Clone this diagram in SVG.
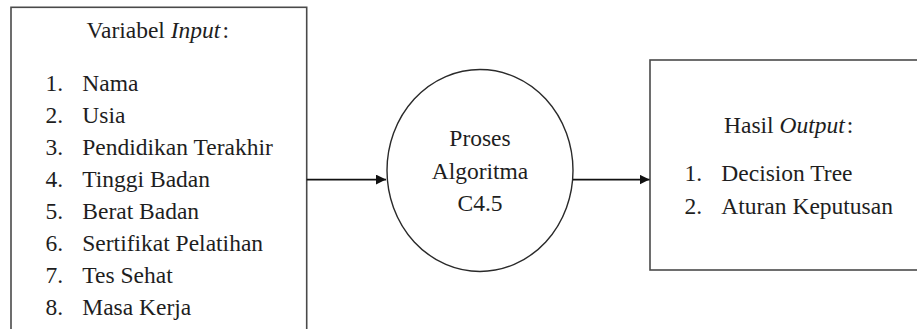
<svg xmlns="http://www.w3.org/2000/svg" width="917" height="329" viewBox="0 0 917 329">
  <style>
    text { font-family: "Liberation Serif", "Times New Roman", serif; font-size: 23.5px; fill: #1e1e1e; }
    .it { font-style: italic; }
    .box { fill: #ffffff; stroke: #4a4a4a; stroke-width: 1.6; }
    .proc { fill: #ffffff; stroke: #2a2a2a; stroke-width: 1.4; }
    .flow { stroke: #111111; stroke-width: 1.6; fill: none; marker-end: url(#arrow); }
    .mid { text-anchor: middle; }
  </style>
  <defs>
    <marker id="arrow" viewBox="0 0 10 10" refX="10" refY="5" markerWidth="10" markerHeight="10" markerUnits="userSpaceOnUse" orient="auto">
      <path d="M0,0 L10,5 L0,10 Z" fill="#111111"/>
    </marker>
  </defs>
  <rect width="917" height="329" fill="#ffffff"/>

  <!-- input variables box (continues below the bottom edge) -->
  <g id="input">
    <rect class="box" x="11" y="7.3" width="295.7" height="340"/>
    <text x="86.6" y="37.8">Variabel <tspan class="it">Input</tspan><tspan dx="2">:</tspan></text>
    <text x="45.5" y="90.6">1.</text><text x="82.3" y="90.6">Nama</text>
    <text x="45.5" y="122.7">2.</text><text x="82.3" y="122.7">Usia</text>
    <text x="45.5" y="154.8">3.</text><text x="82.3" y="154.8">Pendidikan Terakhir</text>
    <text x="45.5" y="186.9">4.</text><text x="82.3" y="186.9">Tinggi Badan</text>
    <text x="45.5" y="219">5.</text><text x="82.3" y="219">Berat Badan</text>
    <text x="45.5" y="251.1">6.</text><text x="82.3" y="251.1">Sertifikat Pelatihan</text>
    <text x="45.5" y="283.2">7.</text><text x="82.3" y="283.2">Tes Sehat</text>
    <text x="45.5" y="315.3">8.</text><text x="82.3" y="315.3">Masa Kerja</text>
  </g>

  <!-- C4.5 process -->
  <g id="process">
    <ellipse class="proc" cx="480" cy="170.5" rx="93" ry="101"/>
    <text class="mid" x="480" y="145.5">Proses</text>
    <text class="mid" x="480" y="178.5">Algoritma</text>
    <text class="mid" x="480" y="211">C4.5</text>
  </g>

  <!-- output box (continues past the right edge) -->
  <g id="output">
    <rect class="box" x="650" y="60" width="300" height="210"/>
    <text x="724" y="132.7">Hasil <tspan class="it">Output</tspan><tspan dx="2">:</tspan></text>
    <text x="684.5" y="180.7">1.</text><text x="721.3" y="180.7">Decision Tree</text>
    <text x="684.5" y="213.8">2.</text><text x="721.3" y="213.8">Aturan Keputusan</text>
  </g>

  <g id="connectors">
    <line class="flow" x1="306.7" y1="179.6" x2="386" y2="179.6"/>
    <line class="flow" x1="573" y1="179.6" x2="649.5" y2="179.6"/>
  </g>
</svg>
